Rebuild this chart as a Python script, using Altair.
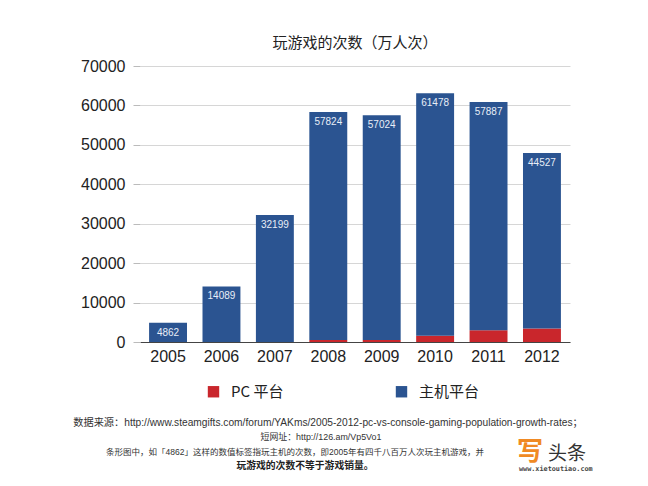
import altair as alt
import pandas as pd

years = ["2005", "2006", "2007", "2008", "2009", "2010", "2011", "2012"]
console = [4862, 14089, 32199, 57824, 57024, 61478, 57887, 44527]
pc = [0, 0, 0, 500, 500, 1600, 3000, 3400]
series = ["PC 平台", "主机平台"]
colors = ["#c9262c", "#2b5491"]
y_ticks = [0, 10000, 20000, 30000, 40000, 50000, 60000, 70000]

title_text = "玩游戏的次数（万人次）"
footer_lines = [
    "数据来源：http://www.steamgifts.com/forum/YAKms/2005-2012-pc-vs-console-gaming-population-growth-rates；",
    "短网址：http://126.am/Vp5Vo1",
    "条形图中，如「4862」这样的数值标签指玩主机的次数，即2005年有四千八百万人次玩主机游戏，并",
]
footer_bold = "玩游戏的次数不等于游戏销量。"

rows = []
for i, y in enumerate(years):
    rows.append({"year": y, "series": series[0], "value": pc[i], "ord": 0})
    rows.append({"year": y, "series": series[1], "value": console[i], "ord": 1})
df = pd.DataFrame(rows)

lab = pd.DataFrame({"year": years, "console": console, "pc": pc})
lab["total"] = lab["console"] + lab["pc"]

W, H = 430, 276
FONT = "Liberation Sans, Noto Sans CJK SC"

xaxis = alt.Axis(labelAngle=0, labelFontSize=16, labelColor="#222",
                 labelFont=FONT, domainColor="#444", ticks=False, labelPadding=6)
xscale = alt.Scale(paddingInner=0.29, paddingOuter=0.17)
yaxis = alt.Axis(values=y_ticks, format="d", labelOverlap=False, labelFontSize=16,
                 labelColor="#222", labelFont=FONT, domain=False,
                 tickColor="#bbb", tickSize=7, labelPadding=8,
                 grid=True, gridColor="#d6d6d6")
yscale = alt.Scale(domain=[0, 70000], nice=False)

bars = alt.Chart(df).mark_bar().encode(
    x=alt.X("year:N", sort=years, title=None, scale=xscale, axis=xaxis),
    y=alt.Y("value:Q", stack="zero", title=None, scale=yscale, axis=yaxis),
    color=alt.Color("series:N", scale=alt.Scale(domain=series, range=colors),
                    legend=alt.Legend(title=None, orient="none", direction="horizontal",
                                      legendX=66, legendY=42 + H,
                                      symbolType="square", symbolSize=130,
                                      symbolStrokeWidth=0, labelFontSize=15,
                                      labelFont="Noto Sans CJK SC", labelColor="#222",
                                      labelOffset=10, columnPadding=110)),
    order=alt.Order("ord:Q"),
)

labels = alt.Chart(lab).mark_text(baseline="top", dy=5, fontSize=10, color="#e8eef7",
                                  font=FONT).encode(
    x=alt.X("year:N", sort=years, title=None, scale=xscale, axis=xaxis),
    y=alt.Y("total:Q", title=None, scale=yscale, axis=yaxis),
    text=alt.Text("console:Q", format="d"),
)

title = alt.Chart(pd.DataFrame({"t": [title_text]})).mark_text(
    fontSize=15, font="Noto Sans CJK SC", color="#222").encode(
    x=alt.value(215), y=alt.value(-23), text="t:N")

fdf = pd.DataFrame({"t": footer_lines, "x": [188, 181, 155], "y": [357, 371, 386],
                    "s": [10.2, 8.9, 8.5]})
footer = alt.Chart(fdf).mark_text(font=FONT, color="#333").encode(
    x=alt.X("x:Q", scale=None), y=alt.Y("y:Q", scale=None), text="t:N",
    size=alt.Size("s:Q", scale=None, legend=None))

fb = alt.Chart(pd.DataFrame({"t": [footer_bold]})).mark_text(
    fontSize=9.8, font="Noto Sans CJK SC", fontWeight="bold", color="#222").encode(
    x=alt.value(165), y=alt.value(400), text="t:N")

wm1 = alt.Chart(pd.DataFrame({"t": ["写"]})).mark_text(
    fontSize=26, font="Noto Sans CJK SC", fontWeight="bold", color="#f08a24", align="left").encode(
    x=alt.value(377), y=alt.value(386), text="t:N")
wm2 = alt.Chart(pd.DataFrame({"t": ["头条"]})).mark_text(
    fontSize=19, font="Noto Sans CJK SC", color="#333", align="left").encode(
    x=alt.value(408), y=alt.value(388), text="t:N")
wm3 = alt.Chart(pd.DataFrame({"t": ["www.xietoutiao.com"]})).mark_text(
    fontSize=6.8, font="DejaVu Sans Mono", fontWeight="bold", color="#444", align="left").encode(
    x=alt.value(379), y=alt.value(403), text="t:N")

chart = alt.layer(bars, labels, title, footer, fb, wm1, wm2, wm3).properties(
    width=W, height=H,
    autosize=alt.AutoSizeParams(type="none"),
    padding={"left": 132, "top": 58, "right": 70, "bottom": 136},
).configure(font=FONT, view=alt.ViewConfig(stroke=None))

chart.save("out.html", embed_options={"renderer": "svg", "actions": False})
